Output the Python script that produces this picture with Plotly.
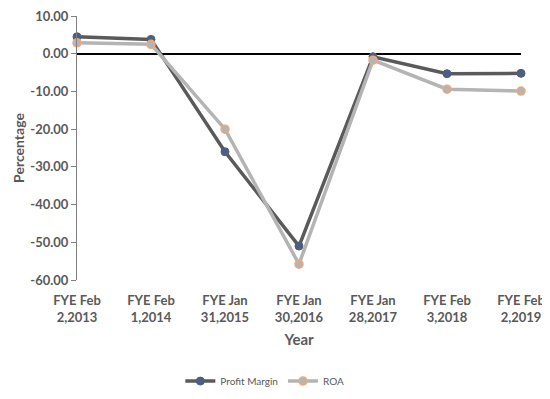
import plotly.graph_objects as go

categories = ["FYE Feb<br>2,2013", "FYE Feb<br>1,2014", "FYE Jan<br>31,2015", "FYE Jan<br>30,2016",
              "FYE Jan<br>28,2017", "FYE Feb<br>3,2018", "FYE Feb<br>2,2019"]
profit_margin = [4.5, 3.8, -26.0, -51.0, -0.8, -5.3, -5.2]
roa = [2.9, 2.5, -20.0, -55.8, -1.7, -9.4, -9.9]
y_ticks = [10, 0, -10, -20, -30, -40, -50, -60]

xs = list(range(len(categories)))
font = "Lato, 'Open Sans', sans-serif"
grey = "#595959"

fig = go.Figure()
fig.add_trace(go.Scatter(
    x=xs, y=profit_margin, name="Profit Margin", mode="lines+markers",
    line=dict(color="#5a5a5a", width=3.5),
    marker=dict(size=8, color="#4d5f80", line=dict(color="#4d5f80", width=1)),
    cliponaxis=False,
))
fig.add_trace(go.Scatter(
    x=xs, y=roa, name="ROA", mode="lines+markers",
    line=dict(color="#b4b4b4", width=3.5),
    marker=dict(size=8, color="#b4b4b4", line=dict(color="#f0a878", width=1.5)),
    cliponaxis=False,
))

ytext = ["<b>" + ("%.2f" % v) + "</b>" for v in y_ticks]
xtext = ["<b>" + c.replace("<br>", "</b><br><b>") + "</b>" for c in categories]

fig.update_layout(
    width=550, height=399,
    margin=dict(l=69, r=37, t=8, b=127, autoexpand=False),
    paper_bgcolor="white", plot_bgcolor="white",
    font=dict(family=font, color=grey),
    showlegend=True,
    legend=dict(orientation="h", xref="container", yref="container",
                x=0.467, xanchor="center", y=0.065, yanchor="middle",
                font=dict(size=10, color=grey), itemwidth=30),
    xaxis=dict(
        range=[0, 6], tickmode="array", tickvals=xs, ticktext=xtext,
        showgrid=False, zeroline=False, showline=False, ticks="",
        ticklabelstandoff=11, automargin=False, ticklabeloverflow="allow",
        tickfont=dict(size=13, color=grey, family=font),
        title=dict(text="<b>Year</b>", font=dict(size=15, color=grey, family=font), standoff=10),
    ),
    yaxis=dict(
        range=[-60, 10], tickmode="array", tickvals=y_ticks, ticktext=ytext,
        showgrid=False, automargin=False, ticklabeloverflow="allow",
        zeroline=True, zerolinecolor="black", zerolinewidth=1.5,
        showline=True, linecolor="#7f7f7f", linewidth=1,
        ticks="outside", ticklen=5, tickcolor="#7f7f7f",
        tickfont=dict(size=13, color=grey, family=font),
        title=dict(text="<b>Percentage</b>", font=dict(size=14, color=grey, family=font), standoff=2),
    ),
)

fig.write_html("out.html")
